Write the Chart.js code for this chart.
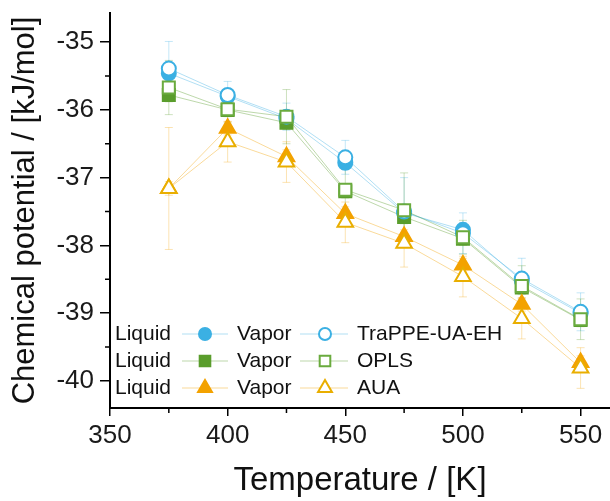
<!DOCTYPE html>
<html>
<head>
<meta charset="utf-8">
<script src="https://cdn.jsdelivr.net/npm/chart.js@4.4.1/dist/chart.umd.min.js"></script>
<style>
html, body { margin: 0; padding: 0; background: #fff; }
#wrap { width: 610px; height: 501px; overflow: hidden; }
</style>
</head>
<body>
<div id="wrap"><canvas id="c" width="610" height="501"></canvas></div>
<script>
// temperatures (K)
var temperatures = [375, 400, 425, 450, 475, 500, 525, 550];

// chemical potential, kJ/mol
var trappeLiquid = [-35.46, -35.80, -36.13, -36.78, -37.52, -37.77, -38.52, -39.00];
var trappeVapor  = [-35.39, -35.78, -36.10, -36.70, -37.50, -37.82, -38.49, -38.98];
var oplsLiquid   = [-35.78, -36.00, -36.19, -37.20, -37.58, -37.90, -38.62, -39.10];
var oplsVapor    = [-35.67, -35.99, -36.10, -37.18, -37.48, -37.88, -38.60, -39.09];
var auaLiquid    = [-37.16, -36.27, -36.69, -37.53, -37.87, -38.29, -38.87, -39.73];
var auaVapor     = [-37.16, -36.47, -36.77, -37.66, -37.97, -38.46, -39.08, -39.81];

// error bars
var trappeLiquidErr = [0.10, 0.10, 0.10, 0.10, 0.10, 0.10, 0.10, 0.10];
var trappeVaporErr  = [0.40, 0.20, 0.20, 0.25, 0.50, 0.30, 0.30, 0.28];
var oplsLiquidErr   = [0.10, 0.10, 0.10, 0.10, 0.10, 0.10, 0.10, 0.10];
var oplsVaporErr    = [0.40, 0.20, 0.40, 0.30, 0.55, 0.25, 0.30, 0.30];
var auaLiquidErr    = [0.10, 0.10, 0.10, 0.10, 0.10, 0.10, 0.10, 0.10];
var auaVaporErr     = [0.90, 0.30, 0.30, 0.30, 0.35, 0.30, 0.30, 0.30];

var xTicks = [350, 400, 450, 500, 550];
var yTicks = [-35, -36, -37, -38, -39, -40];

var FONT = "'Liberation Sans', Arial, sans-serif";

function pts(ys) {
    return temperatures.map(function (t, i) { return {x: t, y: ys[i]}; });
}

function series(label, ys, errs, color, lineColor, errColor, style, radius, filled, order) {
    return {
        label: label,
        data: pts(ys),
        errors: errs,
        errorColor: errColor,
        borderColor: lineColor,
        borderWidth: 1,
        pointStyle: style,
        pointRadius: radius,
        pointBorderWidth: 2,
        pointBorderColor: color,
        pointBackgroundColor: filled ? color : '#ffffff',
        fill: false,
        tension: 0,
        order: order
    };
}

var blue = '#3bb0e3', green = '#5a9d2c', greenOpen = '#6aab3e', orange = '#f3a200', orangeOpen = '#e9ae00';

var datasets = [
    series('TraPPE-UA-EH Liquid', trappeLiquid, trappeLiquidErr, blue, 'rgba(59,176,227,0.4)', 'rgba(59,176,227,0.3)', 'circle', 7, true, 6),
    series('TraPPE-UA-EH Vapor', trappeVapor, trappeVaporErr, blue, 'rgba(59,176,227,0.4)', 'rgba(59,176,227,0.3)', 'circle', 7, false, 3),
    series('OPLS Liquid', oplsLiquid, oplsLiquidErr, green, 'rgba(90,157,44,0.4)', 'rgba(90,157,44,0.3)', 'rect', 8.5, true, 5),
    series('OPLS Vapor', oplsVapor, oplsVaporErr, greenOpen, 'rgba(90,157,44,0.4)', 'rgba(90,157,44,0.3)', 'rect', 8.5, false, 2),
    series('AUA Liquid', auaLiquid, auaLiquidErr, orange, 'rgba(243,162,0,0.4)', 'rgba(243,162,0,0.3)', 'triangle', 9, true, 4),
    series('AUA Vapor', auaVapor, auaVaporErr, orangeOpen, 'rgba(243,162,0,0.4)', 'rgba(243,162,0,0.3)', 'triangle', 9, false, 1)
];

var errorBars = {
    id: 'errorBars',
    beforeDatasetsDraw: function (chart) {
        var ctx = chart.ctx, xs = chart.scales.x, ys = chart.scales.y;
        ctx.save();
        chart.data.datasets.forEach(function (ds) {
            if (!ds.errors) return;
            ctx.strokeStyle = ds.errorColor;
            ctx.lineWidth = 1;
            ds.data.forEach(function (p, i) {
                if (p.y == null || ds.errors[i] == null) return;
                var x = xs.getPixelForValue(p.x);
                var y1 = ys.getPixelForValue(p.y - ds.errors[i]);
                var y2 = ys.getPixelForValue(p.y + ds.errors[i]);
                ctx.beginPath();
                ctx.moveTo(x, y1); ctx.lineTo(x, y2);
                ctx.moveTo(x - 4, y1); ctx.lineTo(x + 4, y1);
                ctx.moveTo(x - 4, y2); ctx.lineTo(x + 4, y2);
                ctx.stroke();
            });
        });
        ctx.restore();
    }
};

// minor ticks between the labelled ones
var minorTicks = {
    id: 'minorTicks',
    afterDraw: function (chart) {
        var ctx = chart.ctx, xs = chart.scales.x, ys = chart.scales.y;
        ctx.save();
        ctx.strokeStyle = '#000';
        ctx.lineWidth = 1.5;
        ctx.beginPath();
        for (var i = 0; i < xTicks.length; i++) {
            var v = xTicks[i] + 25;
            if (v > xs.max) break;
            var px = xs.getPixelForValue(v);
            ctx.moveTo(px, xs.top); ctx.lineTo(px, xs.top + 5);
        }
        for (var j = 0; j < yTicks.length; j++) {
            var w = yTicks[j] - 0.5;
            if (w < ys.min) break;
            var py = ys.getPixelForValue(w);
            ctx.moveTo(ys.right, py); ctx.lineTo(ys.right - 5, py);
        }
        ctx.stroke();
        ctx.restore();
    }
};

// Origin style legend: Liquid -marker- Vapor -marker- name
var legendRows = [
    {liquid: 0, vapor: 1, name: 'TraPPE-UA-EH'},
    {liquid: 2, vapor: 3, name: 'OPLS'},
    {liquid: 4, vapor: 5, name: 'AUA'}
];

var comboLegend = {
    id: 'comboLegend',
    afterDraw: function (chart) {
        var ctx = chart.ctx;
        var left = chart.chartArea.left;
        ctx.save();
        ctx.font = '21px ' + FONT;
        ctx.textBaseline = 'middle';
        legendRows.forEach(function (row, r) {
            var y = 334 + r * 27;
            var liq = chart.data.datasets[row.liquid];
            var vap = chart.data.datasets[row.vapor];
            ctx.fillStyle = '#111';
            ctx.fillText('Liquid', left + 5, y);
            ctx.fillText('Vapor', left + 127, y);
            ctx.fillText(row.name, left + 247, y);
            [[liq, left + 95, left + 72, left + 118], [vap, left + 215, left + 190, left + 238]].forEach(function (m) {
                var ds = m[0];
                ctx.strokeStyle = ds.borderColor;
                ctx.lineWidth = 1;
                ctx.beginPath();
                ctx.moveTo(m[2], y); ctx.lineTo(m[3], y);
                ctx.stroke();
                ctx.fillStyle = ds.pointBackgroundColor;
                ctx.strokeStyle = ds.pointBorderColor;
                ctx.lineWidth = 2;
                Chart.helpers.drawPoint(ctx, {
                    pointStyle: ds.pointStyle,
                    radius: ds.pointRadius - 1,
                    rotation: 0,
                    borderWidth: 2
                }, m[1], y);
            });
        });
        ctx.restore();
    }
};

new Chart(document.getElementById('c'), {
    type: 'line',
    data: {datasets: datasets},
    options: {
        responsive: false,
        animation: false,
        layout: {autoPadding: false, padding: {top: 13, right: 0, left: 0, bottom: 0}},
        plugins: {legend: {display: false}, tooltip: {enabled: false}},
        scales: {
            x: {
                type: 'linear',
                min: 350,
                max: 562.5,
                bounds: 'data',
                border: {color: '#000', width: 2},
                grid: {drawOnChartArea: false, tickLength: 8, color: '#000', lineWidth: 1.5},
                ticks: {
                    color: '#1a1a1a',
                    padding: 4,
                    maxRotation: 0,
                    font: {family: FONT, size: 26}
                },
                afterBuildTicks: function (s) {
                    s.ticks = xTicks.map(function (v) { return {value: v}; });
                },
                title: {
                    display: true,
                    text: 'Temperature / [K]',
                    color: '#111',
                    font: {family: FONT, size: 33},
                    padding: {top: 0, bottom: 0}
                },
                afterFit: function (s) {
                    s.height = 93;
                    s.paddingLeft = 0;
                    s.paddingRight = 0;
                }
            },
            y: {
                type: 'linear',
                min: -40.4,
                max: -34.57,
                bounds: 'data',
                border: {color: '#000', width: 2},
                grid: {drawOnChartArea: false, tickLength: 10, color: '#000', lineWidth: 1.5},
                ticks: {
                    color: '#1a1a1a',
                    padding: 6,
                    font: {family: FONT, size: 26}
                },
                afterBuildTicks: function (s) {
                    s.ticks = yTicks.map(function (v) { return {value: v}; });
                },
                title: {
                    display: true,
                    text: 'Chemical potential / [kJ/mol]',
                    color: '#111',
                    font: {family: FONT, size: 31},
                    padding: {top: 7, bottom: 0}
                },
                afterFit: function (s) {
                    s.width = 110;
                    s.paddingTop = 0;
                    s.paddingBottom = 0;
                }
            }
        }
    },
    plugins: [errorBars, minorTicks, comboLegend]
});
</script>
</body>
</html>
